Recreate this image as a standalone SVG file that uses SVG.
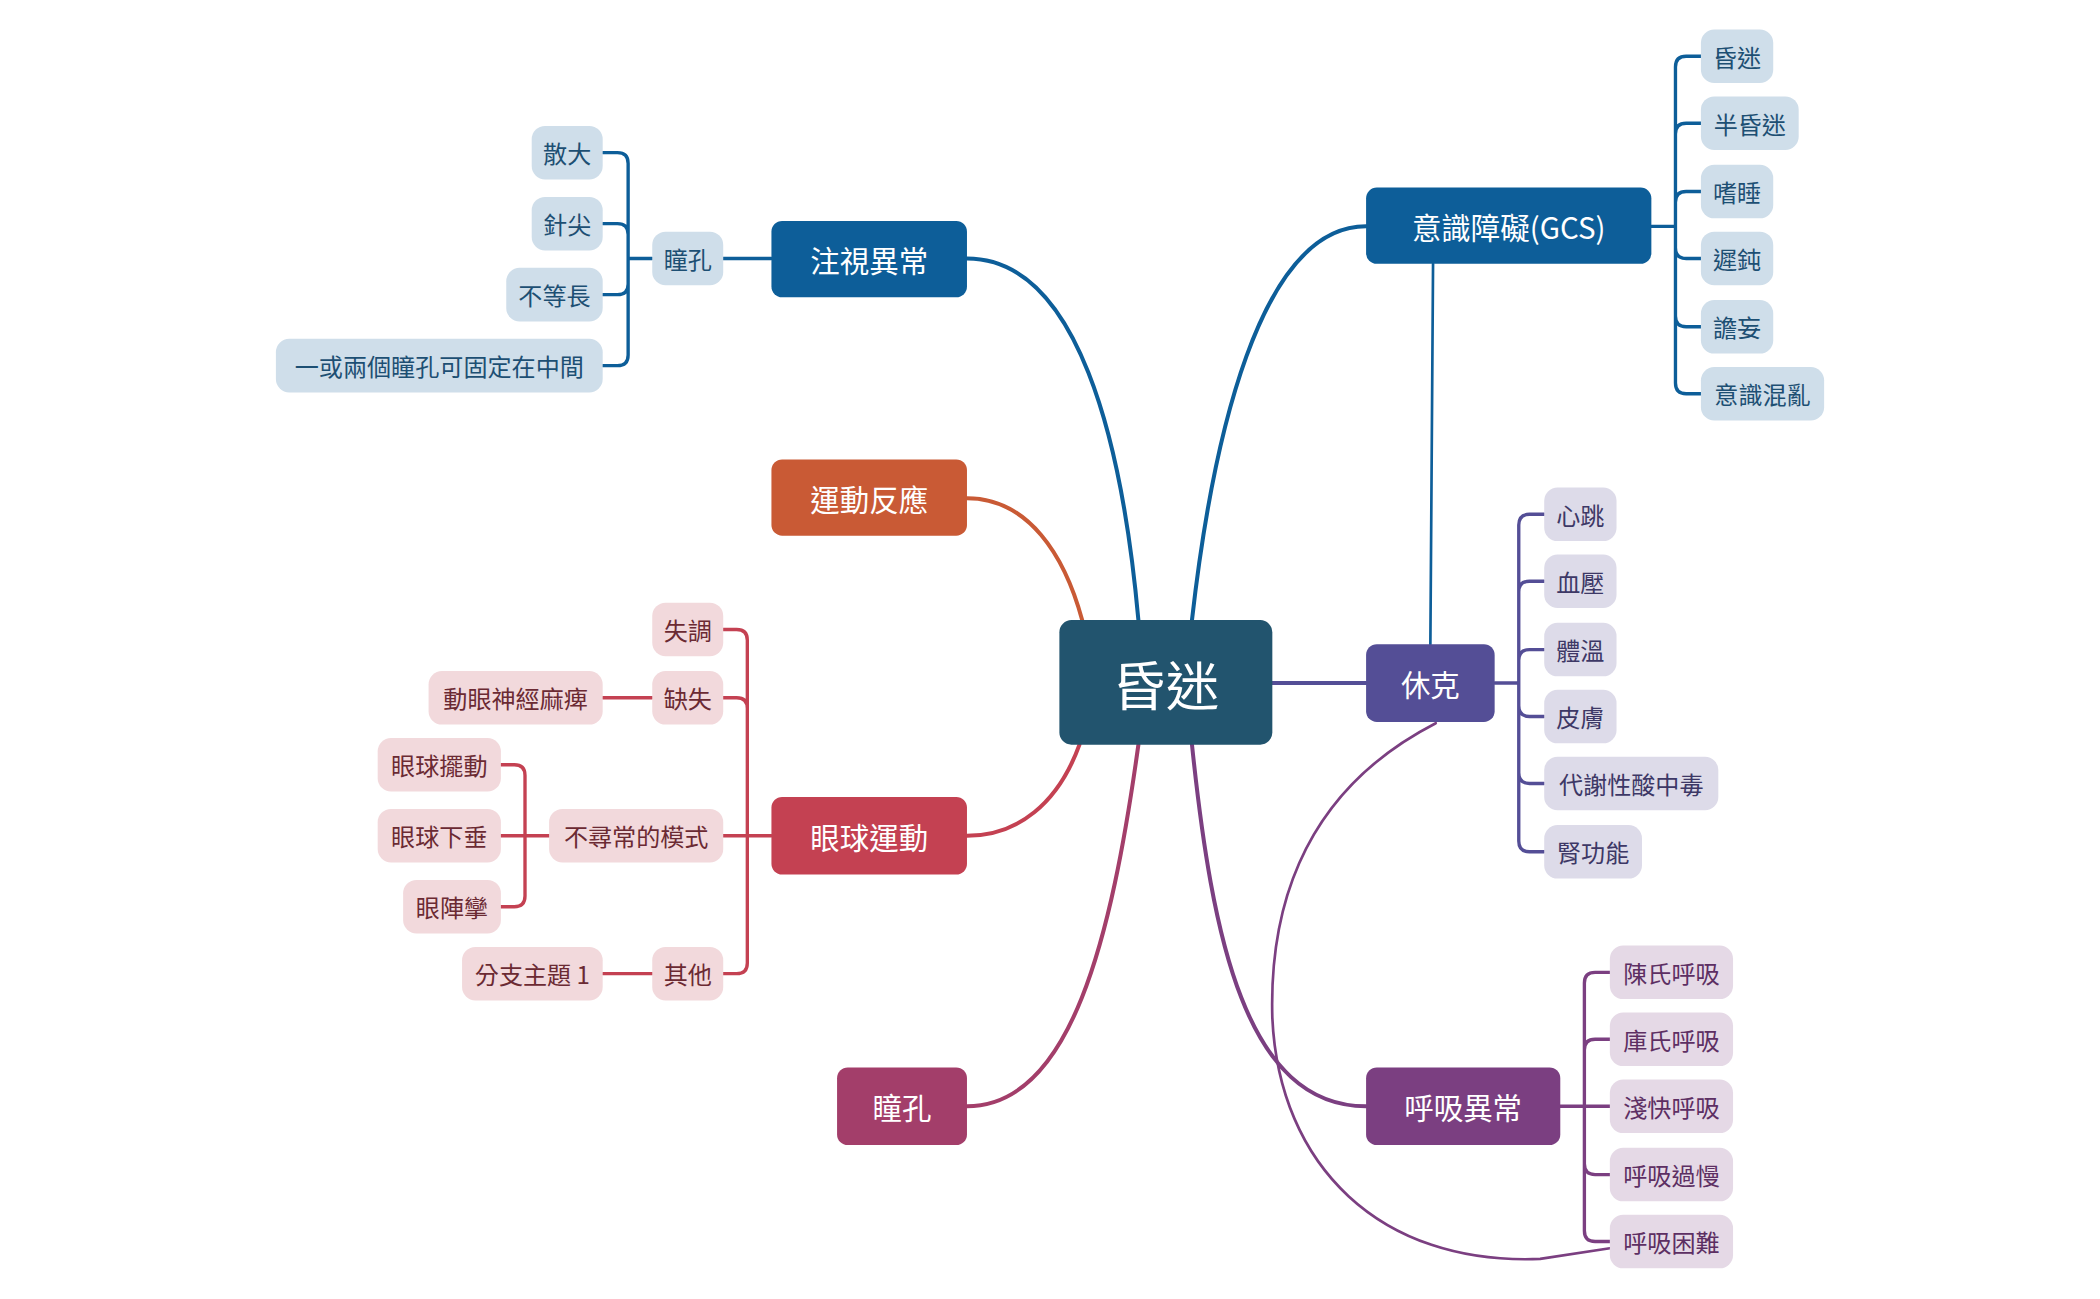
<svg xmlns="http://www.w3.org/2000/svg" width="2100" height="1299" viewBox="0 0 2100 1299">
<style>
text{font-family:"Noto Sans CJK TC","Noto Sans CJK SC",sans-serif;text-anchor:middle;dominant-baseline:central}
.m{font-size:22px;fill:#fff}
.l{font-size:18px}
.c{fill:none;stroke-linecap:round}
.b{stroke:#0d5e99}.r{stroke:#c44152}.o{stroke:#c95a35}.p{stroke:#544e96}.q{stroke:#7b3f81}.k{stroke:#a33e6a}
.lb rect{fill:#cfdeea}.lb text{fill:#1d4f73}
.lr rect{fill:#f2d9dc}.lr text{fill:#6b2a33}
.lp rect{fill:#dddbe9}.lp text{fill:#3d3866}
.lq rect{fill:#e5d9e6}.lq text{fill:#5d2f63}
</style>
<rect width="2100" height="1299" fill="#fff"/>
<g transform="scale(1.3393)">
<g id="connectors">
<g class="c" stroke-width="3">
<path class="b" d="M850,463 C838,330 805,193 722,193"/>
<path class="o" d="M808,463 C795,415 768,372 722,372"/>
<path class="b" d="M890,463 C905,330 940,169 1020,169"/>
<path class="p" d="M950,510 L1020,510"/>
<path class="r" d="M806,556 C790,600 760,624 722,624"/>
<path class="k" d="M850,556 C830,700 800,826 722,826"/>
<path class="q" d="M890,556 C905,700 930,826 1020,826"/>
</g>
<g class="c" stroke-width="2">
<path class="b" d="M1070,197 L1068,481"/>
<path class="q" d="M1072,540 C965,595 948,690 950,760 C955,870 1030,945 1150,940 L1202,932"/>
</g>
<g class="c" stroke-width="2.5">
<path class="b" d="M576,193 H540 M487,193 H469 M450,114 H461 Q469,114 469,122 V265 Q469,273 461,273 H450 M450,167 H461 Q469,167 469,175 M450,220 H461 Q469,220 469,212"/>
<path class="b" d="M1233,169 H1251 M1270,42 H1259 Q1251,42 1251,50 V286 Q1251,294 1259,294 H1270 M1270,92 H1259 Q1251,92 1251,100 M1270,143 H1259 Q1251,143 1251,151 M1270,193 H1259 Q1251,193 1251,185 M1270,244 H1259 Q1251,244 1251,236"/>
<path class="p" d="M1116,510 H1134 M1153,384 H1142 Q1134,384 1134,392 V628 Q1134,636 1142,636 H1153 M1153,434 H1142 Q1134,434 1134,442 M1153,485 H1142 Q1134,485 1134,493 M1153,535 H1142 Q1134,535 1134,527 M1153,585 H1142 Q1134,585 1134,577"/>
<path class="q" d="M1165,826 H1183 M1202,726 H1191 Q1183,726 1183,734 V919 Q1183,927 1191,927 H1202 M1202,776 H1191 Q1183,776 1183,784 M1202,826 H1183 M1202,877 H1191 Q1183,877 1183,869"/>
<path class="r" d="M576,624 H540 M540,470 H550 Q558,470 558,478 V719 Q558,727 550,727 H540 M540,521 H550 Q558,521 558,529 M540,727 H450 M487,521 H450 M410,624 H374 M374,571 H384 Q392,571 392,579 V669 Q392,677 384,677 H374"/>
</g>
</g>
<g id="center"><rect x="791" y="463" width="159" height="93" rx="9" fill="#22546e"/><text x="870.5" y="509.5" font-size="40" fill="#fff">昏迷</text></g>
<g id="n1"><rect x="576" y="165" width="146" height="57" rx="8" fill="#0d5e99"/><text class="m" x="649" y="193.5">注視異常</text></g>
<g id="n2"><rect x="1020" y="140" width="213" height="57" rx="8" fill="#0d5e99"/><text class="m" x="1126.5" y="168.5">意識障礙(GCS)</text></g>
<g id="n3"><rect x="576" y="343" width="146" height="57" rx="8" fill="#c95a35"/><text class="m" x="649" y="371.5">運動反應</text></g>
<g id="n4"><rect x="1020" y="481" width="96" height="58" rx="8" fill="#544e96"/><text class="m" x="1068" y="510">休克</text></g>
<g id="n5"><rect x="576" y="595" width="146" height="58" rx="8" fill="#c44152"/><text class="m" x="649" y="624">眼球運動</text></g>
<g id="n6"><rect x="625" y="797" width="97" height="58" rx="8" fill="#a33e6a"/><text class="m" x="673.5" y="826">瞳孔</text></g>
<g id="n7"><rect x="1020" y="797" width="145" height="58" rx="8" fill="#7b3f81"/><text class="m" x="1092.5" y="826">呼吸異常</text></g>

<g class="lb">
<g id="b1"><rect x="487" y="173" width="53" height="40" rx="10"/><text class="l" x="513.5" y="193">瞳孔</text></g>
<g id="b2"><rect x="397" y="94" width="53" height="40" rx="10"/><text class="l" x="423.5" y="114">散大</text></g>
<g id="b3"><rect x="397" y="147" width="53" height="40" rx="10"/><text class="l" x="423.5" y="167">針尖</text></g>
<g id="b4"><rect x="378" y="200" width="72" height="40" rx="10"/><text class="l" x="414" y="220">不等長</text></g>
<g id="b5"><rect x="206" y="253" width="244" height="40" rx="10"/><text class="l" x="328" y="273">一或兩個瞳孔可固定在中間</text></g>
<g id="g1"><rect x="1270" y="22" width="54" height="40" rx="10"/><text class="l" x="1297" y="42">昏迷</text></g>
<g id="g2"><rect x="1270" y="72" width="73" height="40" rx="10"/><text class="l" x="1306.5" y="92">半昏迷</text></g>
<g id="g3"><rect x="1270" y="123" width="54" height="40" rx="10"/><text class="l" x="1297" y="143">嗜睡</text></g>
<g id="g4"><rect x="1270" y="173" width="54" height="40" rx="10"/><text class="l" x="1297" y="193">遲鈍</text></g>
<g id="g5"><rect x="1270" y="224" width="54" height="40" rx="10"/><text class="l" x="1297" y="244">譫妄</text></g>
<g id="g6"><rect x="1270" y="274" width="92" height="40" rx="10"/><text class="l" x="1316" y="294">意識混亂</text></g>
</g>
<g class="lp">
<g id="s1"><rect x="1153" y="364" width="54" height="40" rx="10"/><text class="l" x="1180" y="384">心跳</text></g>
<g id="s2"><rect x="1153" y="414" width="54" height="40" rx="10"/><text class="l" x="1180" y="434">血壓</text></g>
<g id="s3"><rect x="1153" y="465" width="54" height="40" rx="10"/><text class="l" x="1180" y="485">體溫</text></g>
<g id="s4"><rect x="1153" y="515" width="54" height="40" rx="10"/><text class="l" x="1180" y="535">皮膚</text></g>
<g id="s5"><rect x="1153" y="565" width="130" height="40" rx="10"/><text class="l" x="1218" y="585">代謝性酸中毒</text></g>
<g id="s6"><rect x="1153" y="616" width="73" height="40" rx="10"/><text class="l" x="1189.5" y="636">腎功能</text></g>
</g>
<g class="lq">
<g id="q1"><rect x="1202" y="706" width="92" height="40" rx="10"/><text class="l" x="1248" y="726">陳氏呼吸</text></g>
<g id="q2"><rect x="1202" y="756" width="92" height="40" rx="10"/><text class="l" x="1248" y="776">庫氏呼吸</text></g>
<g id="q3"><rect x="1202" y="806" width="92" height="40" rx="10"/><text class="l" x="1248" y="826">淺快呼吸</text></g>
<g id="q4"><rect x="1202" y="857" width="92" height="40" rx="10"/><text class="l" x="1248" y="877">呼吸過慢</text></g>
<g id="q5"><rect x="1202" y="907" width="92" height="40" rx="10"/><text class="l" x="1248" y="927">呼吸困難</text></g>
</g>
<g class="lr">
<g id="r1"><rect x="487" y="450" width="53" height="40" rx="10"/><text class="l" x="513.5" y="470">失調</text></g>
<g id="r2"><rect x="487" y="501" width="53" height="40" rx="10"/><text class="l" x="513.5" y="521">缺失</text></g>
<g id="r3"><rect x="320" y="501" width="130" height="40" rx="10"/><text class="l" x="385" y="521">動眼神經麻痺</text></g>
<g id="r4"><rect x="410" y="604" width="130" height="40" rx="10"/><text class="l" x="475" y="624">不尋常的模式</text></g>
<g id="r5"><rect x="282" y="551" width="92" height="40" rx="10"/><text class="l" x="328" y="571">眼球擺動</text></g>
<g id="r6"><rect x="282" y="604" width="92" height="40" rx="10"/><text class="l" x="328" y="624">眼球下垂</text></g>
<g id="r7"><rect x="301" y="657" width="73" height="40" rx="10"/><text class="l" x="337.5" y="677">眼陣攣</text></g>
<g id="r8"><rect x="487" y="707" width="53" height="40" rx="10"/><text class="l" x="513.5" y="727">其他</text></g>
<g id="r9"><rect x="345" y="707" width="105" height="40" rx="10"/><text class="l" x="397.5" y="727">分支主題 1</text></g>
</g>
</g>
</svg>
